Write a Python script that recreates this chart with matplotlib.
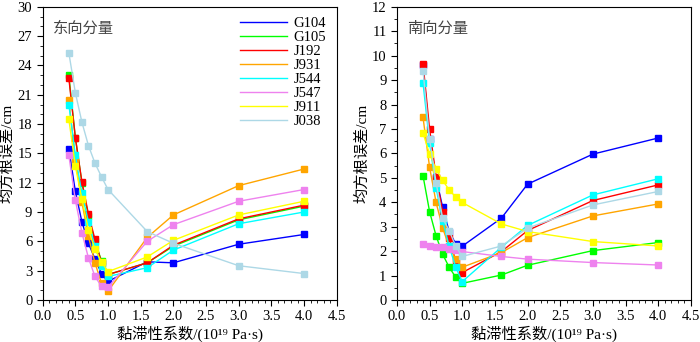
import matplotlib
matplotlib.use("Agg")
import matplotlib.pyplot as plt
from matplotlib.ticker import MultipleLocator
from matplotlib.lines import Line2D

plt.rcParams['font.family'] = ['Liberation Serif', 'DejaVu Serif', 'Noto Sans CJK SC']

# viscosity coefficient (10^19 Pa·s)
x = [0.4, 0.5, 0.6, 0.7, 0.8, 0.9, 1.0, 1.6, 2.0, 3.0, 4.0]
stations = ["G104", "G105", "J192", "J931", "J544", "J547", "J911", "J038"]
colors = ["#0000ff", "#00ff00", "#ff0000", "#ffa500", "#00ffff", "#ee82ee", "#ffff00", "#add8e6"]

# east component RMS (cm)
east = {
    "G104": [15.5, 11.1, 8.0, 5.8, 4.2, 2.7, 1.9, 3.9, 3.8, 5.7, 6.7],
    "G105": [23.0, 16.6, 12.0, 8.6, 6.0, 4.0, 2.6, 3.8, 5.5, 8.2, 9.6],
    "J192": [22.7, 16.6, 12.1, 8.8, 6.2, 3.8, 2.6, 3.8, 5.6, 8.3, 9.7],
    "J931": [20.5, 14.4, 10.0, 6.5, 3.8, 1.7, 0.9, 6.4, 8.7, 11.7, 13.4],
    "J544": [20.0, 14.8, 10.9, 8.0, 5.5, 3.5, 2.4, 3.3, 5.1, 7.8, 9.0],
    "J547": [14.8, 10.2, 6.9, 4.3, 2.4, 1.4, 1.3, 6.0, 7.7, 10.1, 11.3],
    "J911": [18.5, 13.7, 10.3, 7.2, 5.2, 3.9, 2.9, 4.4, 6.1, 8.7, 10.1],
    "J038": [25.3, 21.2, 18.2, 15.8, 14.0, 12.6, 11.3, 7.0, 5.8, 3.5, 2.7],
}

# north component RMS (cm)
north = {
    "G104": [9.6, 6.6, 5.0, 3.8, 2.8, 2.3, 2.2, 3.35, 4.74, 5.97, 6.63],
    "G105": [5.08, 3.62, 2.62, 1.87, 1.34, 0.93, 0.68, 1.02, 1.42, 2.02, 2.35],
    "J192": [9.67, 7.0, 5.05, 3.62, 2.53, 1.6, 1.12, 1.98, 2.84, 4.07, 4.71],
    "J931": [7.47, 5.44, 3.99, 2.94, 2.19, 1.67, 1.34, 1.94, 2.55, 3.44, 3.93],
    "J544": [8.88, 6.42, 4.58, 3.25, 2.2, 1.34, 0.75, 2.16, 3.05, 4.30, 4.96],
    "J547": [2.3, 2.21, 2.16, 2.15, 2.1, 2.05, 1.98, 1.78, 1.67, 1.53, 1.43],
    "J911": [6.83, 5.98, 5.36, 4.89, 4.51, 4.21, 3.99, 3.11, 2.8, 2.39, 2.21],
    "J038": [9.39, 6.6, 4.8, 3.35, 2.84, 2.2, 1.78, 2.21, 2.94, 3.89, 4.44],
}

xlabel = "黏滞性系数/(10¹⁹ Pa·s)"
ylabel = "均方根误差/cm"

fig = plt.figure(figsize=(7, 3.42), dpi=100)
ax1 = fig.add_axes([0.061, 0.123, 0.420, 0.857])
ax2 = fig.add_axes([0.567, 0.123, 0.420, 0.857])


def draw(ax, data, title, ymax, ymajor, yminor):
    for name, c in zip(stations, colors):
        ax.plot(x, data[name], color=c, lw=1.0, marker='s', ms=5,
                mec=c, mfc=c, label=name)
    ax.set_xlim(0, 4.5)
    ax.set_ylim(0, ymax)
    ax.xaxis.set_major_locator(MultipleLocator(0.5))
    ax.xaxis.set_minor_locator(MultipleLocator(0.1))
    ax.yaxis.set_major_locator(MultipleLocator(ymajor))
    ax.yaxis.set_minor_locator(MultipleLocator(yminor))
    ax.xaxis.set_major_formatter(plt.FormatStrFormatter('%.1f'))
    ax.tick_params(which='major', direction='out', length=4, width=0.8, labelsize=10.5)
    ax.tick_params(which='minor', direction='out', length=2.5, width=0.6)
    for s in ax.spines.values():
        s.set_linewidth(0.8)
    ax.set_xlabel(xlabel, fontsize=11, labelpad=2)
    ax.set_ylabel(ylabel, fontsize=11, labelpad=2)
    ax.text(0.035, 0.95, title, transform=ax.transAxes, fontsize=11,
            color='#444444', va='top', ha='left')


draw(ax1, east, "东向分量", 30, 3, 1)
draw(ax2, north, "南向分量", 12, 1, 0.5)

# legend shows lines only
handles = [Line2D([], [], color=c, lw=1.0) for c in colors]
ax1.legend(handles, stations, loc='upper right', frameon=False, fontsize=10.5,
           handlelength=3.2, labelspacing=0.05, borderaxespad=0.3, handletextpad=0.5)

fig.savefig("out.png", dpi=100)
